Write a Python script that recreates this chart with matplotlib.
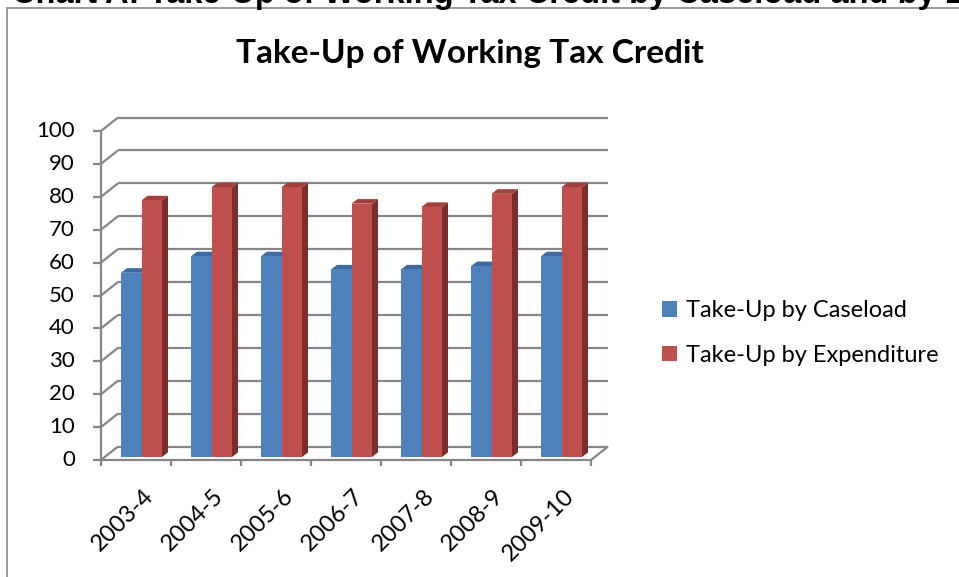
import matplotlib
matplotlib.use("Agg")
import matplotlib.pyplot as plt
from matplotlib.patches import Polygon, Rectangle, Patch
import numpy as np

# ---- data ----
categories = ["2003-4", "2004-5", "2005-6", "2006-7", "2007-8", "2008-9", "2009-10"]
caseload = [56, 61, 61, 57, 57, 58, 61]
expenditure = [78, 82, 82, 77, 76, 80, 82]
series_names = ["Take-Up by Caseload", "Take-Up by Expenditure"]
yticks = list(range(0, 101, 10))

W, H = 959, 577
fig = plt.figure(figsize=(W / 100, H / 100), dpi=100)
FONT = "Lato"

# axes: front plane of the pseudo-3D chart
L, R, T, B = 101, 591, 131, 460
ax = fig.add_axes([L / W, 1 - B / H, (R - L) / W, (B - T) / H])
n = len(categories)
ax.set_xlim(0, n)
ax.set_ylim(0, 100)
ax.axis("off")

px_x = (R - L) / n          # px per category
px_y = (B - T) / 100.0      # px per unit
DX = 17 / px_x              # wall depth
DY = 13.5 / px_y
grid_c = "#868686"
glw = 1.6

def line(xs, ys, z=1, **kw):
    ax.plot(xs, ys, color=grid_c, lw=glw, clip_on=False, zorder=z,
            solid_capstyle="butt", **kw)

# back wall gridlines and side wall diagonals
for v in yticks:
    line([DX, n + DX], [v + DY, v + DY])
    line([0, DX], [v, v + DY])
    line([-8 / px_x, 0], [v, v])  # y tick
# floor
line([0, n], [0, 0])
line([n, n + DX], [0, DY])
# front vertical axis
line([0, 0], [0, 100])
# x ticks
for i in range(n + 1):
    line([i, i], [0, -6 / px_y])

# ---- bars ----
off_x = 3.8 / px_x
off_y = 3.0 / px_y
bw = 20.5 / px_x
start = off_x + 16.2 / px_x
ddx = 6 / px_x
ddy = 4.6 / px_y
x = np.arange(n)

styles = [
    dict(front="#4F81BD", top="#3E6A9F", side="#2F5686"),
    dict(front="#C0504D", top="#A2403D", side="#7A2F2D"),
]
handles = []
for s, (vals, st) in enumerate(zip([caseload, expenditure], styles)):
    left = x + start + s * bw
    zf = 3 + 2 * s
    bars = ax.bar(left, vals, width=bw, bottom=off_y, align="edge",
                  color=st["front"], edgecolor="none", zorder=zf, clip_on=False)
    for xl, v in zip(left, vals):
        top = off_y + v
        side = Polygon([(xl + bw, off_y), (xl + bw + ddx, off_y + ddy),
                        (xl + bw + ddx, top + ddy), (xl + bw, top)],
                       closed=True, facecolor=st["side"], edgecolor="none",
                       zorder=zf - 1, clip_on=False)
        topf = Polygon([(xl, top), (xl + bw, top), (xl + bw + ddx, top + ddy),
                        (xl + ddx, top + ddy)], closed=True,
                       facecolor=st["top"], edgecolor="none",
                       zorder=zf - 1, clip_on=False)
        ax.add_patch(side)
        ax.add_patch(topf)
    handles.append(Patch(facecolor=st["front"], edgecolor="none",
                         label=series_names[s]))

# y tick labels
for v in yticks:
    ax.text(-26 / px_x, v, str(v), ha="right", va="center",
            fontsize=16, family=FONT, clip_on=False)
# x tick labels
for i, c in enumerate(categories):
    ax.text(i + 0.6, -7.8, c, ha="right", va="top", rotation=45,
            rotation_mode="anchor", fontsize=17, family=FONT, clip_on=False)

# title
fig.text(470 / W, 1 - 54 / H, "Take-Up of Working Tax Credit", ha="center",
         va="center", fontsize=24, fontweight="bold", family=FONT)

# cut-off heading above chart
fig.text(12 / W, 1 - 3.5 / H,
         "Chart A: Take-Up of Working Tax Credit by Caseload and by Expenditure",
         ha="left", va="baseline", fontsize=23.5, fontweight="bold",
         family="Liberation Sans")

# chart area frame
fig.patches.append(Rectangle((7 / W, -0.2), 1.5, 1.2 - 8 / H, fill=False,
                             edgecolor="#878787", lw=1.2,
                             transform=fig.transFigure))

# legend
fig.legend(handles=handles, loc="center left",
           bbox_to_anchor=(662 / W, 1 - 333 / H), frameon=False,
           prop={"family": FONT, "size": 17},
           handlelength=0.62, handleheight=0.62, handletextpad=0.4,
           labelspacing=1.0, borderaxespad=0, borderpad=0)

fig.savefig("out.png", dpi=100)
